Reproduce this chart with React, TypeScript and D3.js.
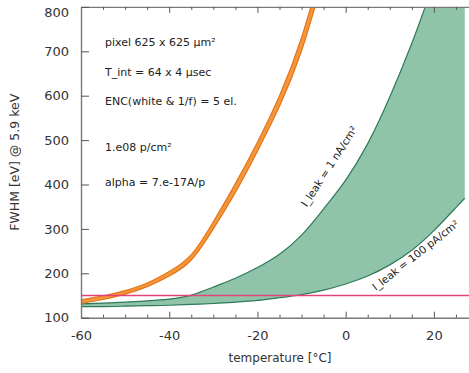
// FWHM vs temperature chart, drawn with d3 into an svg ref
import * as d3 from "d3";
import { useRef, useEffect } from "react";

// temperature samples [°C] for the green band
const temps = [-60, -55, -50, -45, -40, -35, -30, -25, -20, -15, -10, -5, 0, 5, 10, 15, 20, 25, 27];
// FWHM [eV] for I_leak = 1 nA/cm²
const leak1nA = [131, 133, 135, 138, 142, 151, 169, 189, 213, 243, 286, 345, 410, 492, 597, 718, 860, 1030, 1100];
// FWHM [eV] for I_leak = 100 pA/cm²
const leak100pA = [125, 125, 126, 127, 128, 130, 132, 135, 139, 145, 152, 162, 176, 194, 219, 252, 296, 348, 369];

// orange band (edges)
const orangeTemps = [-60, -55, -50, -45, -40, -35, -30, -25, -20, -15, -10, -5];
const orangeLow = [132, 141, 153, 170, 194, 230, 300, 382, 475, 576, 701, 868];
const orangeHigh = [140, 149, 161, 178, 204, 242, 316, 402, 495, 600, 731, 904];

// horizontal reference line
const limitTemps = [-60, 30];
const limitValue = 150;

// ticks
const xTicks = [-60, -40, -20, 0, 20];
const xMinorTicks = [-55, -50, -45, -35, -30, -25, -15, -10, -5, 5, 10, 15, 25, 30];
const yTicks = [100, 200, 300, 400, 500, 600, 700, 800];

// notes in the upper left
const notes = ["pixel 625 x 625 µm²", "T_int = 64 x 4 µsec", "ENC(white & 1/f) = 5 el.", "1.e08 p/cm²", "alpha = 7.e-17A/p"];
const noteY = [42, 72, 101, 147, 182];

export default function App() {
    const svgRef = useRef(null);

    useEffect(() => {
        const svg = d3.select(svgRef.current);
        svg.selectAll("*").remove();

        const width = 469;
        const font = "'DejaVu Sans', Verdana, sans-serif";
        const axisColor = "#7a7a7a";

        // scales
        const x = d3.scaleLinear().domain([-60, 30]).range([81, 478]);
        const y = d3.scaleLinear().domain([100, 800]).range([317.7, 6.9]);

        // clip to plot area
        svg.append("defs").append("clipPath").attr("id", "plotClip")
            .append("rect").attr("x", x(-60)).attr("y", y(800)).attr("width", width - x(-60)).attr("height", y(100) - y(800));

        const plot = svg.append("g").attr("clip-path", "url(#plotClip)");

        // green band between the two leakage curves
        const greenData = temps.map((t, i) => ({ t, lo: leak100pA[i], hi: leak1nA[i] }));
        const area = d3.area().x(d => x(d.t)).y0(d => y(d.lo)).y1(d => y(d.hi)).curve(d3.curveNatural);
        plot.append("path").datum(greenData).attr("d", area).attr("fill", "#8fc4a9");
        const lineHi = d3.line().x(d => x(d.t)).y(d => y(d.hi)).curve(d3.curveNatural);
        const lineLo = d3.line().x(d => x(d.t)).y(d => y(d.lo)).curve(d3.curveNatural);
        plot.append("path").datum(greenData).attr("d", lineHi).attr("fill", "none").attr("stroke", "#2e7a5a").attr("stroke-width", 1.2);
        plot.append("path").datum(greenData).attr("d", lineLo).attr("fill", "none").attr("stroke", "#2e7a5a").attr("stroke-width", 1.2);

        // orange band
        const orangeData = orangeTemps.map((t, i) => ({ t, lo: orangeLow[i], hi: orangeHigh[i] }));
        plot.append("path").datum(orangeData).attr("d", area).attr("fill", "#f5963a").attr("stroke", "#e3761a").attr("stroke-width", 1.2);

        // pink reference line
        plot.append("line").attr("x1", x(limitTemps[0])).attr("x2", x(limitTemps[1]))
            .attr("y1", y(limitValue)).attr("y2", y(limitValue))
            .attr("stroke", "#e2437a").attr("stroke-width", 1.6);

        // bottom axis, ticks pointing inward
        const bottom = svg.append("g").attr("transform", `translate(0,${y(100)})`)
            .call(d3.axisBottom(x).tickValues(xTicks).tickSize(-6).tickSizeOuter(0).tickPadding(13).tickFormat(d => String(d)));
        svg.append("g").attr("transform", `translate(0,${y(100)})`)
            .call(d3.axisBottom(x).tickValues(xMinorTicks).tickSize(-3).tickSizeOuter(0).tickFormat(() => ""))
            .select(".domain").remove();

        // top axis mirror ticks
        const top = svg.append("g").attr("transform", `translate(0,${y(800)})`)
            .call(d3.axisTop(x).tickValues(xTicks).tickSize(-6).tickSizeOuter(0).tickFormat(() => ""));
        svg.append("g").attr("transform", `translate(0,${y(800)})`)
            .call(d3.axisTop(x).tickValues(xMinorTicks).tickSize(-3).tickSizeOuter(0).tickFormat(() => ""))
            .select(".domain").remove();

        // left axis
        const left = svg.append("g").attr("transform", `translate(${x(-60)},0)`)
            .call(d3.axisLeft(y).tickValues(yTicks).tickSize(-8).tickSizeOuter(0).tickPadding(12).tickFormat(d => String(d)));

        // style axes
        svg.selectAll(".domain").attr("stroke", axisColor).attr("stroke-width", 1.4);
        svg.selectAll(".tick line").attr("stroke", "#555").attr("stroke-width", 1);
        [bottom, left, top].forEach(a => a.selectAll("text").attr("fill", "#333").style("font-family", font).style("font-size", "13px"));

        // keep the top y label inside the picture
        left.selectAll(".tick").filter(d => d === 800).select("text").attr("y", 5.5);

        // axis titles
        svg.append("text").attr("x", 280).attr("y", 362).attr("text-anchor", "middle").attr("fill", "#333")
            .style("font-family", font).style("font-size", "12px").text("temperature [°C]");
        svg.append("text").attr("transform", `translate(19,${(y(100) + y(800)) / 2}) rotate(-90)`).attr("text-anchor", "middle").attr("fill", "#333")
            .style("font-family", font).style("font-size", "12.5px").text("FWHM [eV] @ 5.9 keV");

        // notes
        notes.forEach((n, i) => {
            svg.append("text").attr("x", 105).attr("y", noteY[i]).attr("dy", "0.35em").attr("fill", "#222")
                .style("font-family", font).style("font-size", "11px").text(n);
        });

        // curve labels
        svg.append("text").attr("transform", `translate(${x(-8.8)},${y(348)}) rotate(-57)`).attr("fill", "#222")
            .style("font-family", font).style("font-size", "10.5px").text("I_leak = 1 nA/cm²");
        svg.append("text").attr("transform", `translate(${x(6.8)},${y(160)}) rotate(-38)`).attr("fill", "#222")
            .style("font-family", font).style("font-size", "10.5px").text("I_leak = 100 pA/cm²");
    }, []);

    return (
        <svg ref={svgRef} width={469} height={373} style={{ position: "absolute", left: 0, top: 0, background: "#fff" }} />
    );
}
